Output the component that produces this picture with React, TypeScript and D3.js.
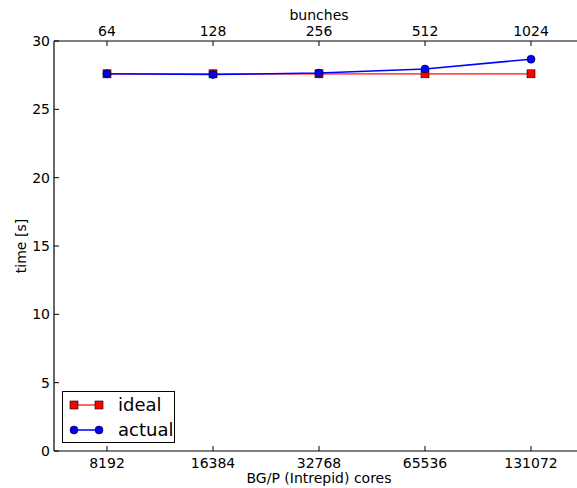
import React from "react";
import * as d3 from "d3";

const bunches = [64, 128, 256, 512, 1024];
const cores = [8192, 16384, 32768, 65536, 131072];
const ideal = [27.6, 27.6, 27.6, 27.6, 27.6];
const actual = [27.6, 27.55, 27.65, 27.95, 28.67];
const yTicks = [0, 5, 10, 15, 20, 25, 30];

const W = 577, H = 488;
const left = 54, top = 41, bottom = 451;
const font = "DejaVu Sans, sans-serif";
const redLine = "#ff5555";

export default function App() {
  const x = d3.scaleLog().base(2).domain([64 / Math.SQRT2, 1024 * Math.SQRT2]).range([left, 584]);
  const y = d3.scaleLinear().domain([0, 30]).range([bottom, top]);
  const lineGen = d3.line<number>().x((_, i) => x(bunches[i])).y((d) => y(d));
  const right = 584;
  return (
    <svg width={W} height={H} style={{ position: "absolute", left: 0, top: 0 }} fontFamily={font}>
      <rect width={W} height={H} fill="white" />
      {/* spines */}
      <line x1={left} x2={right} y1={top} y2={top} stroke="black" strokeWidth={1.2} />
      <line x1={left} x2={right} y1={bottom} y2={bottom} stroke="black" strokeWidth={1.2} />
      <line x1={left} x2={left} y1={top} y2={bottom} stroke="black" strokeWidth={1.2} />
      {/* y ticks */}
      {yTicks.map((t) => (
        <g key={t}>
          <line x1={left} x2={left + 5} y1={y(t)} y2={y(t)} stroke="black" />
          <text x={left - 4} y={y(t)} dy="0.35em" textAnchor="end" fontSize={14}>{t}</text>
        </g>
      ))}
      {/* x ticks */}
      {bunches.map((b, i) => (
        <g key={b}>
          <line x1={x(b)} x2={x(b)} y1={top} y2={top + 5} stroke="black" />
          <line x1={x(b)} x2={x(b)} y1={bottom} y2={bottom - 5} stroke="black" />
          <text x={x(b)} y={top - 5} textAnchor="middle" fontSize={14}>{b}</text>
          <text x={x(b)} y={bottom + 17} textAnchor="middle" fontSize={14}>{cores[i]}</text>
        </g>
      ))}
      <text x={319} y={20} textAnchor="middle" fontSize={14}>bunches</text>
      <text x={319} y={483} textAnchor="middle" fontSize={14}>BG/P (Intrepid) cores</text>
      <text transform={`translate(26,246) rotate(-90)`} textAnchor="middle" fontSize={14}>time [s]</text>
      {/* ideal */}
      <path d={lineGen(ideal) || ""} fill="none" stroke={redLine} strokeWidth={1.8} />
      {ideal.map((v, i) => (
        <rect key={i} x={x(bunches[i]) - 4} y={y(v) - 4} width={8} height={8} fill="#ff0000" stroke="black" strokeWidth={0.6} />
      ))}
      {/* actual */}
      <path d={lineGen(actual) || ""} fill="none" stroke="#0000ff" strokeWidth={1.5} />
      {actual.map((v, i) => (
        <circle key={i} cx={x(bunches[i])} cy={y(v)} r={4} fill="#0000ff" stroke="black" strokeWidth={0.6} />
      ))}
      {/* legend */}
      <rect x={62.5} y={391.5} width={112} height={51} fill="white" stroke="black" strokeWidth={1} />
      <line x1={74} x2={99} y1={405} y2={405} stroke={redLine} strokeWidth={1.8} />
      <rect x={70} y={401} width={8} height={8} fill="#ff0000" stroke="black" strokeWidth={0.6} />
      <rect x={95} y={401} width={8} height={8} fill="#ff0000" stroke="black" strokeWidth={0.6} />
      <text x={118} y={405} dy="0.35em" fontSize={18}>ideal</text>
      <line x1={74} x2={99} y1={430} y2={430} stroke="#0000ff" strokeWidth={1.5} />
      <circle cx={74} cy={430} r={4} fill="#0000ff" stroke="black" strokeWidth={0.6} />
      <circle cx={99} cy={430} r={4} fill="#0000ff" stroke="black" strokeWidth={0.6} />
      <text x={118} y={430} dy="0.35em" fontSize={18}>actual</text>
    </svg>
  );
}
